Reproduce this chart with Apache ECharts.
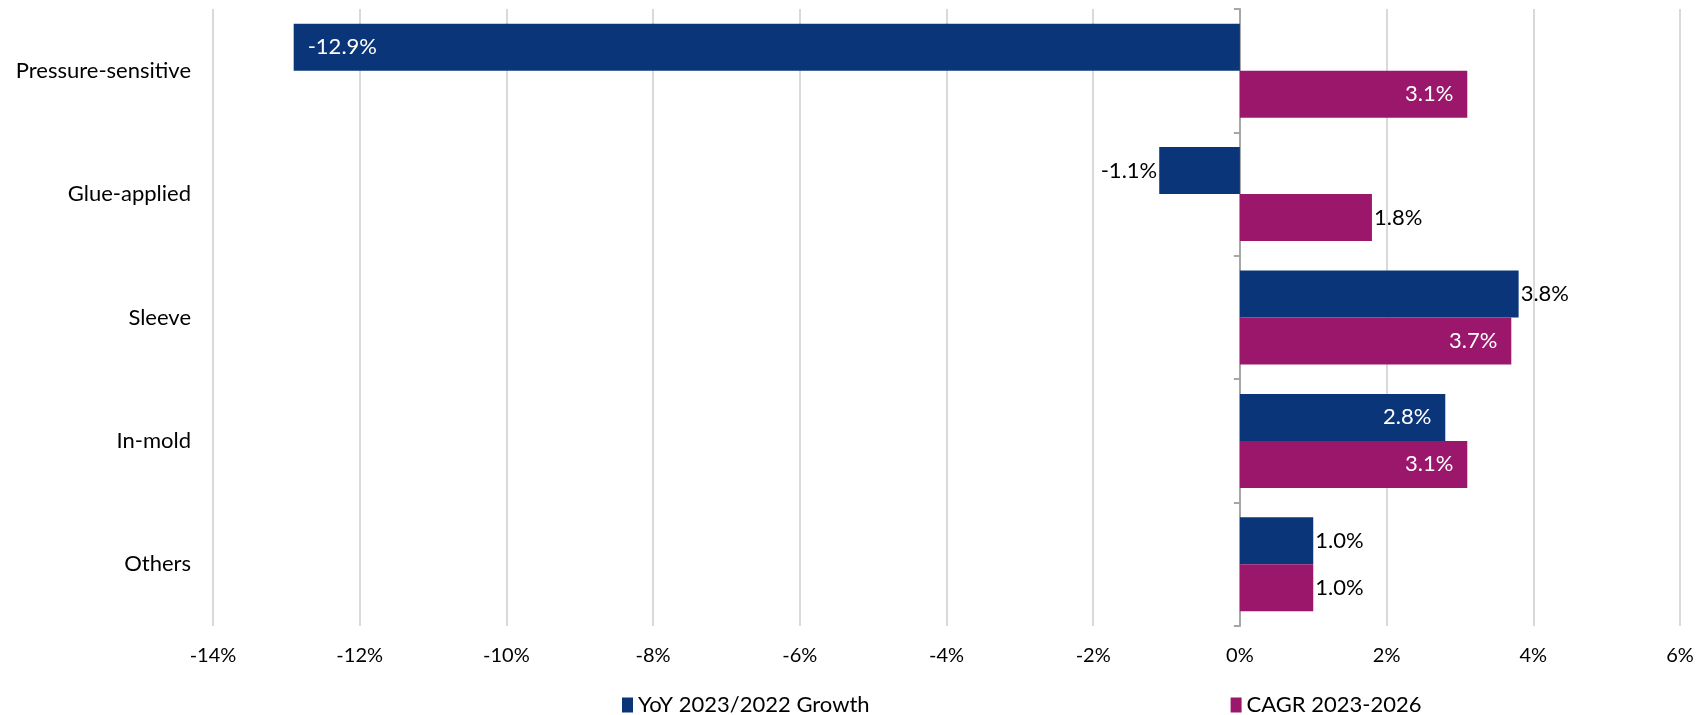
<!DOCTYPE html>
<html>
<head>
<meta charset="utf-8">
<script src="https://cdn.jsdelivr.net/npm/echarts@6/dist/echarts.min.js"></script>
<style>
  html, body { margin: 0; padding: 0; background: #fff; }
  #chart { width: 1701px; height: 715px; }
</style>
</head>
<body>
<div id="chart"></div>
<script>
var categories = ['Pressure-sensitive', 'Glue-applied', 'Sleeve', 'In-mold', 'Others'];
var yoyValues = [-12.9, -1.1, 3.8, 2.8, 1.0];
var cagrValues = [3.1, 1.8, 3.7, 3.1, 1.0];
var seriesNames = ['YoY 2023/2022 Growth', 'CAGR 2023-2026'];
// where each label sits: inside the bar (white) or outside (black)
var yoyLabelPos = ['insideLeft', 'left', 'right', 'insideRight', 'right'];
var cagrLabelPos = ['insideRight', 'right', 'insideRight', 'insideRight', 'right'];

var FONT = 'Lato';

function buildData(values, positions) {
    return values.map(function(v, i) {
        var inside = positions[i].indexOf('inside') === 0;
        return {
            value: v,
            label: {
                position: positions[i],
                color: inside ? '#fff' : '#000',
                distance: inside ? 14 : 2
            }
        };
    });
}

var chart = echarts.init(document.getElementById('chart'));
var option = {
    animation: false,
    textStyle: { fontFamily: FONT },
    grid: { left: 213, right: 21, top: 9, bottom: 89, containLabel: false },
    legend: {
        left: 617,
        top: 689,
        itemWidth: 11,
        itemHeight: 15,
        itemGap: 361,
        icon: 'rect',
        textStyle: { fontFamily: FONT, fontSize: 22, color: '#000' },
        data: seriesNames
    },
    xAxis: {
        type: 'value',
        min: -14,
        max: 6,
        interval: 2,
        axisLine: { show: false },
        axisTick: { show: false },
        splitLine: { lineStyle: { color: '#d9d9d9', width: 2 } },
        axisLabel: {
            formatter: '{value}%',
            fontFamily: FONT,
            fontSize: 20,
            color: '#000',
            margin: 20
        }
    },
    yAxis: [{
        type: 'category',
        data: categories,
        inverse: true,
        position: 'left',
        axisLine: { show: false, onZero: false },
        axisTick: { show: false },
        axisLabel: { fontFamily: FONT, fontSize: 22, color: '#000', margin: 22 }
    }, {
        type: 'category',
        data: categories,
        inverse: true,
        position: 'left',
        axisLine: { show: true, onZero: true, lineStyle: { color: '#a6a6a6', width: 2 } },
        axisTick: { show: true, length: 6, lineStyle: { color: '#a6a6a6', width: 2 } },
        axisLabel: { show: false }
    }],
    series: [{
        name: seriesNames[0],
        type: 'bar',
        yAxisIndex: 0,
        barWidth: 47,
        barGap: '0%',
        itemStyle: { color: '#0a3679' },
        label: { show: true, fontSize: 22, fontFamily: FONT, formatter: function(p) { return p.value.toFixed(1) + '%'; } },
        data: buildData(yoyValues, yoyLabelPos)
    }, {
        name: seriesNames[1],
        type: 'bar',
        yAxisIndex: 0,
        barWidth: 47,
        barGap: '0%',
        itemStyle: { color: '#9a176c' },
        label: { show: true, fontSize: 22, fontFamily: FONT, formatter: function(p) { return p.value.toFixed(1) + '%'; } },
        data: buildData(cagrValues, cagrLabelPos)
    }]
};
chart.setOption(option);
</script>
</body>
</html>
